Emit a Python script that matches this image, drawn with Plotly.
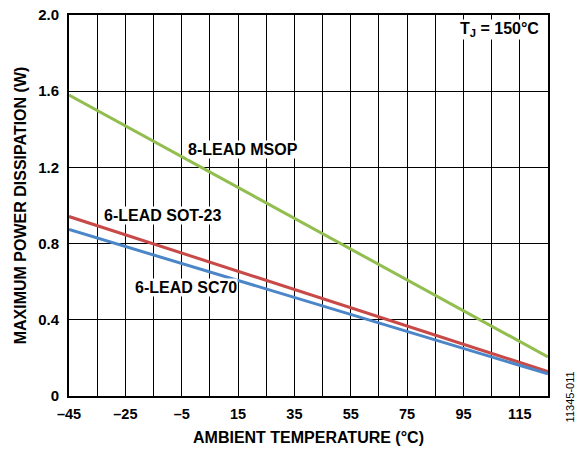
import plotly.graph_objects as go

temps = [-45, 125]
msop = [1.58, 0.205]
sot23 = [0.942, 0.128]
sc70 = [0.874, 0.116]

x_ticks = list(range(-45, 126, 10))
x_labels = [("–" + str(abs(v)) if v < 0 else str(v)) if (v + 45) % 20 == 0 and v < 125 else "" for v in x_ticks]
y_ticks = [0, 0.4, 0.8, 1.2, 1.6, 2.0]
y_labels = ["0", "0.4", "0.8", "1.2", "1.6", "2.0"]

FONT = "Liberation Sans, Arial, sans-serif"

fig = go.Figure()
fig.add_trace(go.Scatter(x=temps, y=msop, mode="lines", line=dict(color="#92BE50", width=3)))
fig.add_trace(go.Scatter(x=temps, y=sot23, mode="lines", line=dict(color="#C84A48", width=3)))
fig.add_trace(go.Scatter(x=temps, y=sc70, mode="lines", line=dict(color="#4A86C8", width=3)))

def label(text, x, y, xanchor="center"):
    fig.add_annotation(x=x, y=y, text=text, showarrow=False, xanchor=xanchor,
                       font=dict(family=FONT, size=16, color="black"),
                       bgcolor="white", borderpad=0)

label("<b>8-LEAD MSOP</b>", 16.7, 1.295)
label("<b>6-LEAD SOT-23</b>", -11.8, 0.945)
label("<b>6-LEAD SC70</b>", -3.5, 0.568)
fig.add_annotation(x=122.3, y=1.925, text="<b>T<sub>J</sub> = 150°C</b>", showarrow=False, xanchor="right",
                   font=dict(family=FONT, size=16, color="black"), bgcolor="white", borderpad=0)
fig.add_annotation(xref="paper", yref="paper", x=1.045, y=0.07, text="11345-011", textangle=-90,
                   showarrow=False, xanchor="center", yanchor="top",
                   font=dict(family=FONT, size=11, color="black"))

fig.update_layout(
    width=587, height=451,
    margin=dict(l=69, r=39, t=15, b=55),
    paper_bgcolor="white", plot_bgcolor="white",
    showlegend=False,
    font=dict(family=FONT, size=15, color="black"),
    xaxis=dict(range=[-45, 125], tickvals=x_ticks, ticktext=x_labels, showgrid=True,
               gridcolor="black", gridwidth=1, showline=True, linecolor="black", linewidth=2,
               mirror=True, ticks="", zeroline=False, ticklabelstandoff=4, automargin=False,
               tickfont=dict(family=FONT, size=14.5, color="black", weight="bold"),
               title=dict(text="<b>AMBIENT TEMPERATURE (°C)</b>", standoff=10,
                          font=dict(family=FONT, size=16, color="black"))),
    yaxis=dict(range=[0, 2.0], tickvals=y_ticks, ticktext=y_labels, showgrid=True,
               gridcolor="black", gridwidth=1, showline=True, linecolor="black", linewidth=2,
               mirror=True, ticks="", zeroline=False, ticklabelstandoff=5, automargin=False,
               tickfont=dict(family=FONT, size=15, color="black", weight="bold"),
               title=dict(text="<b>MAXIMUM POWER DISSIPATION (W)</b>", standoff=8,
                          font=dict(family=FONT, size=16, color="black"))),
)

fig.write_html("out.html")
